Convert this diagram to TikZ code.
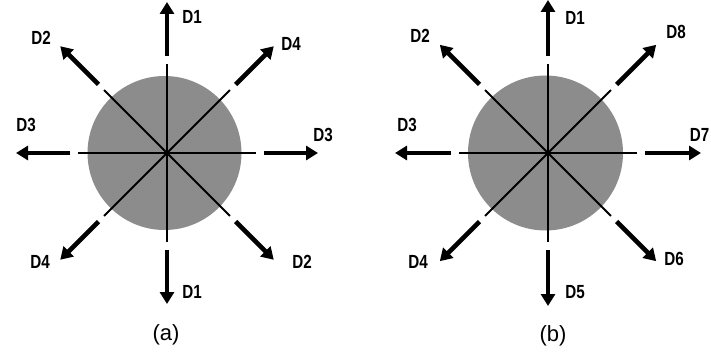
\documentclass[tikz,border=0pt]{standalone}
\usepackage{fontspec}
\setmainfont{Liberation Sans}
\usetikzlibrary{arrows.meta,calc}
\definecolor{discgray}{HTML}{8C8C8C}
\tikzset{
  disc/.style={fill=discgray, draw=none},
  axisline/.style={line width=2pt, black},
  dirarrow/.style={line width=4.6pt, black, -{Triangle[length=12pt,width=14pt]}},
  dirlabel/.style={font=\fontsize{19}{19}\selectfont\bfseries, inner sep=0pt, xscale=0.8},
  caption/.style={font=\fontsize{22}{22}\selectfont, inner sep=0pt},
}
\begin{document}
\begin{tikzpicture}[x=1pt,y=-1pt]
\useasboundingbox (0,0) rectangle (711,358);
\clip (0,0) rectangle (711,358);
% ---------- panel (a) ----------
\coordinate (ca) at (167,153);
\fill[disc] (164.5,153) circle (77);
\foreach \ang/\nm in {0/ra,45/sea,90/da,135/swa,180/la,225/nwa,270/ua,315/nea}{
  \draw[axisline] (ca) -- ($(ca)+(\ang:89)$) coordinate (e\nm);
  \coordinate (s\nm) at ($(ca)+(\ang:97)$);
  \coordinate (t\nm) at ($(ca)+(\ang:151)$);
  \draw[dirarrow] (s\nm) -- (t\nm);
}
\node[dirlabel] (a1t) at (192,17) {D1};
\node[dirlabel] (a2t) at (41,38) {D2};
\node[dirlabel] (a4t) at (291,44) {D4};
\node[dirlabel] (a3l) at (26,125) {D3};
\node[dirlabel] (a3r) at (323,135) {D3};
\node[dirlabel] (a4b) at (40,262) {D4};
\node[dirlabel] (a2b) at (302,262) {D2};
\node[dirlabel] (a1b) at (192,292) {D1};
\node[caption] (capa) at (166,335) {(a)};
% ---------- panel (b) ----------
\coordinate (cb) at (548,153);
\fill[disc] (545.5,153) circle (77.5);
\foreach \ang/\nm in {0/rb,45/seb,90/db,135/swb,180/lb,225/nwb,270/ub,315/neb}{
  \draw[axisline] (cb) -- ($(cb)+(\ang:89)$) coordinate (e\nm);
  \coordinate (s\nm) at ($(cb)+(\ang:97)$);
  \coordinate (t\nm) at ($(cb)+(\ang:153)$);
  \draw[dirarrow] (s\nm) -- (t\nm);
}
\node[dirlabel] (b1) at (575,18) {D1};
\node[dirlabel] (b2) at (420,36) {D2};
\node[dirlabel] (b8) at (676,32) {D8};
\node[dirlabel] (b3) at (407,125) {D3};
\node[dirlabel] (b7) at (699.5,135) {D7};
\node[dirlabel] (b4) at (418,262) {D4};
\node[dirlabel] (b6) at (674,259) {D6};
\node[dirlabel] (b5) at (575,292) {D5};
\node[caption] (capb) at (553,336) {(b)};
\end{tikzpicture}
\end{document}
